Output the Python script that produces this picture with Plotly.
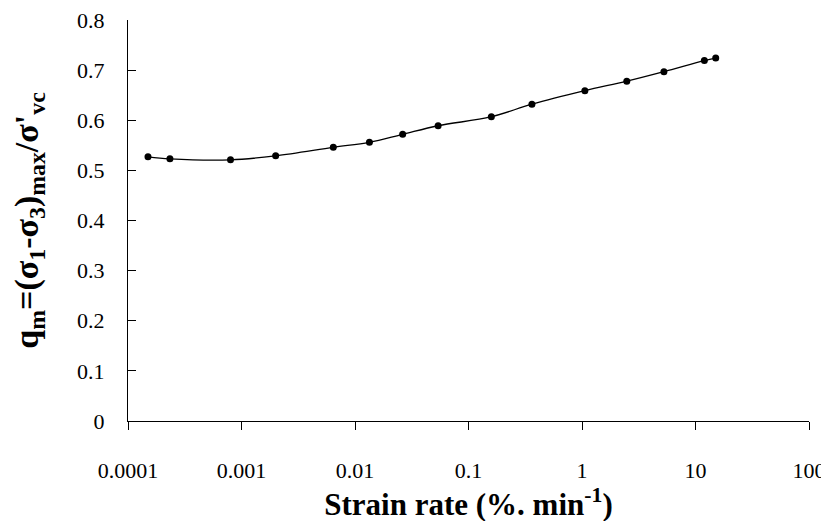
import plotly.graph_objects as go

strain_rate = [1.5e-4, 2.34e-4, 8.0e-4, 2.0e-3, 6.44e-3, 0.0134, 0.0263, 0.054,
               0.159, 0.362, 1.06, 2.48, 5.27, 11.97, 15.07]
qm = [0.527, 0.523, 0.521, 0.529, 0.546, 0.556, 0.572, 0.589,
      0.607, 0.632, 0.659, 0.678, 0.697, 0.719, 0.724]

x_tickvals = [1e-4, 1e-3, 1e-2, 1e-1, 1, 10, 100]
x_ticktext = ["0.0001", "0.001", "0.01", "0.1", "1", "10", "100"]
y_tickvals = [0, 0.1, 0.2, 0.3, 0.4, 0.5, 0.6, 0.7, 0.8]
y_ticktext = ["0", "0.1", "0.2", "0.3", "0.4", "0.5", "0.6", "0.7", "0.8"]

font = "Liberation Serif, Times New Roman, serif"
tick_font = dict(family=font, size=22, color="black")

fig = go.Figure()
fig.add_trace(go.Scatter(
    x=strain_rate, y=qm, mode="lines+markers",
    line=dict(color="black", width=1.3, shape="spline", smoothing=1.0),
    marker=dict(color="black", size=7, symbol="circle"),
    showlegend=False,
))

fig.update_layout(
    width=829, height=521,
    margin=dict(l=120, r=28, t=12, b=108),
    paper_bgcolor="white", plot_bgcolor="white",
    font=dict(family=font, color="black", size=22),
    xaxis=dict(
        type="log", range=[-4, 2], automargin=False, ticklabeloverflow="allow",
        tickvals=x_tickvals, ticktext=x_ticktext, tickfont=tick_font,
        ticks="outside", ticklen=8, tickcolor="black", tickwidth=1,
        showline=True, linecolor="black", linewidth=1.3,
        showgrid=False, zeroline=False, ticklabelstandoff=21,
        title=dict(text="<b>Strain rate (%. min<sup>-1</sup>)</b>",
                   font=dict(family=font, size=31, color="black"), standoff=4),
    ),
    yaxis=dict(
        range=[0, 0.8], automargin=False, ticklabeloverflow="allow",
        tickvals=y_tickvals, ticktext=y_ticktext, tickfont=tick_font,
        ticks="inside", ticklen=8, tickcolor="black", tickwidth=1,
        showline=True, linecolor="black", linewidth=1.3,
        showgrid=False, zeroline=False, ticklabelstandoff=18,
        title=dict(text="<b>q<sub>m</sub>=(σ<sub>1</sub>-σ<sub>3</sub>)<sub>max</sub>/σ'<sub>vc</sub></b>",
                   font=dict(family=font, size=34, color="black"), standoff=32),
    ),
)

fig.write_html("out.html")
